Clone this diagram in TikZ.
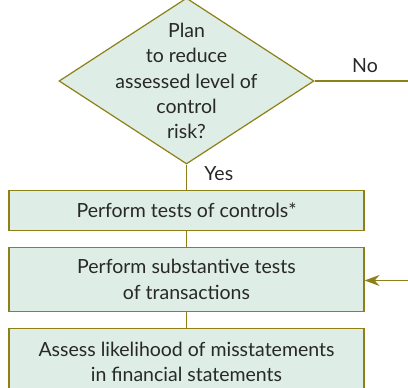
\documentclass[tikz,border=0pt]{standalone}
\usepackage{fontspec}
\setmainfont{Lato}
\usetikzlibrary{shapes.geometric,arrows.meta,positioning}

\definecolor{flowline}{RGB}{140,128,22}
\definecolor{flowfill}{RGB}{222,237,229}
\definecolor{flowtext}{RGB}{40,40,40}

\begin{document}
\begin{tikzpicture}[x=1pt,y=1pt,
  every node/.style={text=flowtext, font=\fontsize{19.5}{25.3}\selectfont},
  stepbox/.style={draw=flowline, fill=flowfill, line width=1.2pt,
    minimum width=355pt, align=center, inner sep=0pt},
  decision/.style={diamond, draw=flowline, fill=flowfill, line width=1.2pt,
    minimum width=255pt, minimum height=166pt, inner sep=0pt},
  link/.style={draw=flowline, line width=1.2pt}]

  \clip (0,0) rectangle (408,388);

  % decision diamond
  \node[decision] (plan) at (186.5,307) {};
  \node[align=center] (plantext) at (plan.center)
    {Plan\\to reduce\\assessed level of\\control\\risk?};

  % the three steps, one under the other
  \node[stepbox, minimum height=40pt, below=25pt of plan] (controls)
    {Perform tests of controls*};
  \node[stepbox, minimum height=64pt, below=16pt of controls] (subst)
    {Perform substantive tests\\of transactions};
  \node[stepbox, minimum height=66pt, below=16pt of subst] (assess)
    {Assess likelihood of misstatements\\in financial statements};

  % connectors
  \draw[link] (plan.south) -- (controls.north)
    node[pos=0.35, right=14pt] (yes) {Yes};
  \draw[link] (controls.south) -- (subst.north);
  \draw[link] (subst.south) -- (assess.north);

  \coordinate (noend) at (408,307);
  \draw[link] (plan.east) -- (noend)
    node[pos=0.54, above=4pt] (no) {No};

  \coordinate (backin) at (408,107.5);
  \draw[link, -{Stealth[length=15pt, width=11pt, inset=5pt]}]
    (backin) -- (backin -| subst.east);

\end{tikzpicture}
\end{document}
